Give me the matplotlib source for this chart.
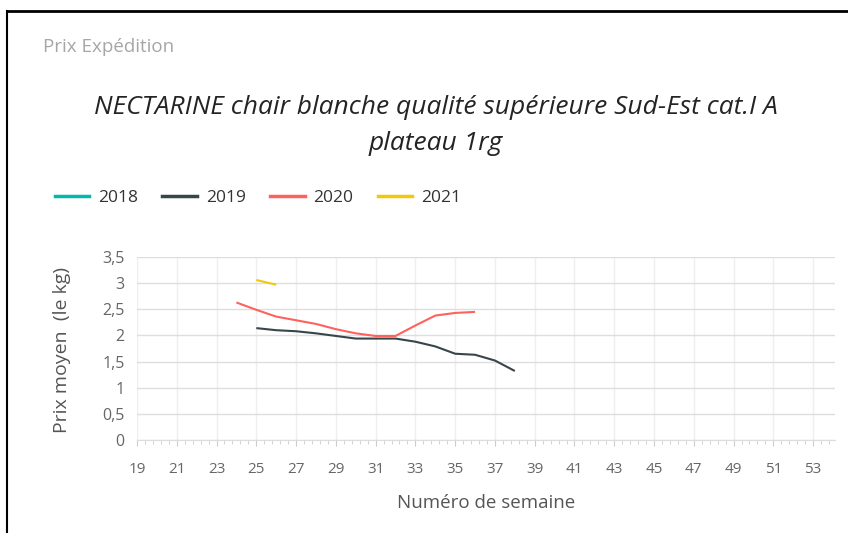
import matplotlib
matplotlib.use("Agg")
import matplotlib.pyplot as plt
from matplotlib.lines import Line2D
import numpy as np

plt.rcParams['font.family'] = ['Open Sans', 'DejaVu Sans']

weeks_2019 = [25, 26, 27, 28, 29, 30, 31, 32, 33, 34, 35, 36, 37, 38]
price_2019 = [2.14, 2.10, 2.08, 2.04, 1.99, 1.94, 1.94, 1.94, 1.88, 1.79, 1.65, 1.63, 1.52, 1.32]
weeks_2020 = [24, 25, 26, 27, 28, 29, 30, 31, 32, 33, 34, 35, 36]
price_2020 = [2.63, 2.49, 2.36, 2.29, 2.22, 2.12, 2.04, 1.99, 1.99, 2.19, 2.38, 2.43, 2.45]
weeks_2021 = [25, 26]
price_2021 = [3.06, 2.97]
weeks_2018 = []
price_2018 = []

series_names = ["2018", "2019", "2020", "2021"]
series_colors = ["#01B8AA", "#374649", "#FD625E", "#F2C80F"]
x_ticks = list(range(19, 54, 2))
y_ticks = [0, 0.5, 1, 1.5, 2, 2.5, 3, 3.5]
y_tick_labels = ["0", "0,5", "1", "1,5", "2", "2,5", "3", "3,5"]

fig = plt.figure(figsize=(8.48, 5.33), dpi=100)
W, H = 848, 533
ax = fig.add_axes([137 / W, 1 - 440 / H, (835 - 137) / W, (440 - 257) / H])

data = [(weeks_2018, price_2018), (weeks_2019, price_2019),
        (weeks_2020, price_2020), (weeks_2021, price_2021)]
for (wk, pr), c in zip(data, series_colors):
    if wk:
        ax.plot(wk, pr, color=c, lw=1.5, solid_capstyle='butt', zorder=3)

ax.set_xlim(19, 54.1)
ax.set_ylim(0, 3.5)
ax.set_xticks(x_ticks)
ax.set_xticks(np.arange(19, 54.1, 0.4), minor=True)
ax.set_yticks(y_ticks)
ax.set_yticklabels(y_tick_labels)
ax.grid(axis='x', which='major', color='#efefef', lw=1)
ax.grid(axis='y', which='major', color='#dedede', lw=1)
for s in ['top', 'right', 'left']:
    ax.spines[s].set_visible(False)
ax.spines['bottom'].set_color('#dddddd')
ax.tick_params(axis='x', which='major', length=4, color='#cccccc', labelsize=11,
               labelcolor='#666666', pad=12)
ax.tick_params(axis='x', which='minor', length=3, color='#cccccc')
ax.tick_params(axis='y', length=0, labelsize=11.5, labelcolor='#666666', pad=9)

ax.set_xlabel("Numéro de semaine", fontsize=13.5, color='#555555')
ax.xaxis.set_label_coords(0.5, -(503 - 440) / 183, transform=ax.transAxes)
ax.xaxis.label.set_va('center')
ax.set_ylabel("Prix moyen  (le kg)", fontsize=14, color='#555555')
ax.yaxis.set_label_coords((62 - 137) / 698, 0.49, transform=ax.transAxes)
ax.yaxis.label.set_va('center')

fig.text(43 / W, 1 - 47 / H, "Prix Expédition", fontsize=13.5, color='#a6a6a6',
         va='center', ha='left')
fig.text(436 / W, 1 - 107 / H, "NECTARINE chair blanche qualité supérieure Sud-Est cat.I A",
         fontsize=19, style='italic', color='#252423', ha='center', va='center')
fig.text(436 / W, 1 - 143 / H, "plateau 1rg",
         fontsize=19, style='italic', color='#252423', ha='center', va='center')

handles = [Line2D([], [], color=c, lw=2.5) for c in series_colors]
fig.legend(handles, series_names, loc='center left', bbox_to_anchor=(39 / W, 1 - 198 / H),
           ncol=4, frameon=False, fontsize=12.5, handlelength=2.0, handletextpad=0.5,
           columnspacing=1.4, labelcolor='#333333')

# outer frame (top and left edges)
fig.add_artist(Line2D([7 / W, 1], [1 - 11 / H, 1 - 11 / H], color='black', lw=2,
                      transform=fig.transFigure))
fig.add_artist(Line2D([7 / W, 7 / W], [0, 1 - 11 / H], color='black', lw=1.5,
                      transform=fig.transFigure))

fig.savefig("out.png", dpi=100)
